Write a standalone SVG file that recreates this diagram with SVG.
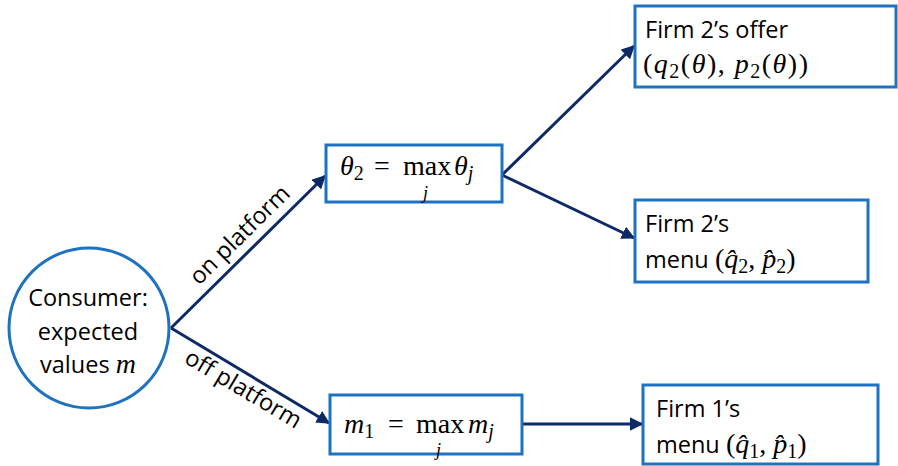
<svg xmlns="http://www.w3.org/2000/svg" width="898" height="466" viewBox="0 0 898 466">
<defs>
<marker id="ah" viewBox="0 0 10 10" refX="9" refY="5" markerWidth="4.5" markerHeight="4.5" orient="auto" markerUnits="strokeWidth">
<path d="M0,0 L10,5 L0,10 z" fill="#0e2a66"/>
</marker>
<style>
.box{fill:#fff;stroke:#1f72c0;stroke-width:3}
.ed{stroke:#0e2a66;stroke-width:3;fill:none;marker-end:url(#ah)}
.t{font-family:"Open Sans","Liberation Sans",sans-serif;font-size:23.5px;fill:#000}
.m{font-family:"Liberation Serif","DejaVu Serif",serif;font-size:28px;fill:#000}
.i{font-style:italic}
.s{font-size:20px}
.ls{letter-spacing:1.5px}
</style>
</defs>
<rect width="898" height="466" fill="#fff"/>
<g id="connectors">
<line class="ed" x1="171" y1="328" x2="325" y2="176"/>
<line class="ed" x1="171" y1="328" x2="329" y2="423"/>
<line class="ed" x1="502" y1="175" x2="634" y2="46"/>
<line class="ed" x1="502" y1="175" x2="634" y2="238"/>
<line class="ed" x1="522" y1="424" x2="642" y2="424"/>
<text class="t" transform="translate(199,286) rotate(-44.6)">on platform</text>
<text class="t" transform="translate(183,362) rotate(30.7)">off platform</text>
</g>
<g id="consumer">
<circle cx="89" cy="328" r="80" fill="#fff" stroke="#1f72c0" stroke-width="3"/>
<text class="t" x="88" y="306" text-anchor="middle">Consumer:</text>
<text class="t" x="88" y="340" text-anchor="middle">expected</text>
<text class="t" x="88" y="373" text-anchor="middle">values <tspan class="m i">m</tspan></text>
</g>
<g id="theta2">
<rect class="box" x="326" y="145" width="176" height="57"/>
<text class="m" y="175"><tspan x="340" class="i">θ</tspan><tspan class="s" dy="5">2</tspan><tspan x="374" dy="-5">=</tspan><tspan x="403">max</tspan><tspan x="454" class="i">θ</tspan><tspan class="s i" dy="5">j</tspan></text>
<text class="m i" style="font-size:18px" x="423" y="199">j</text>
</g>
<g id="m1">
<rect class="box" x="330" y="395" width="192" height="59"/>
<text class="m" y="433"><tspan x="344" class="i">m</tspan><tspan class="s" dy="5">1</tspan><tspan x="388" dy="-5">=</tspan><tspan x="416">max</tspan><tspan x="468" class="i">m</tspan><tspan class="s i" dy="5">j</tspan></text>
<text class="m i" style="font-size:18px" x="436" y="456">j</text>
</g>
<g id="firm2offer">
<rect class="box" x="635" y="6" width="261" height="81"/>
<text class="t" x="645" y="38">Firm 2’s offer</text>
<text class="m ls" y="73"><tspan x="643">(</tspan><tspan class="i">q</tspan><tspan class="s" dy="5">2</tspan><tspan dy="-5">(</tspan><tspan class="i">θ</tspan><tspan>), </tspan><tspan class="i">p</tspan><tspan class="s" dy="5">2</tspan><tspan dy="-5">(</tspan><tspan class="i">θ</tspan><tspan>))</tspan></text>
</g>
<g id="firm2menu">
<rect class="box" x="635" y="200" width="233" height="82"/>
<text class="t" x="645" y="232">Firm 2’s</text>
<text class="t" x="645" y="268">menu <tspan class="m">(</tspan><tspan class="m i">q̂</tspan><tspan class="m s" dy="5">2</tspan><tspan class="m" dy="-5">, </tspan><tspan class="m i">p̂</tspan><tspan class="m s" dy="5">2</tspan><tspan class="m" dy="-5">)</tspan></text>
</g>
<g id="firm1menu">
<rect class="box" x="643" y="385" width="235" height="79"/>
<text class="t" x="656" y="417">Firm 1’s</text>
<text class="t" x="656" y="453">menu <tspan class="m">(</tspan><tspan class="m i">q̂</tspan><tspan class="m s" dy="5">1</tspan><tspan class="m" dy="-5">, </tspan><tspan class="m i">p̂</tspan><tspan class="m s" dy="5">1</tspan><tspan class="m" dy="-5">)</tspan></text>
</g>
</svg>
